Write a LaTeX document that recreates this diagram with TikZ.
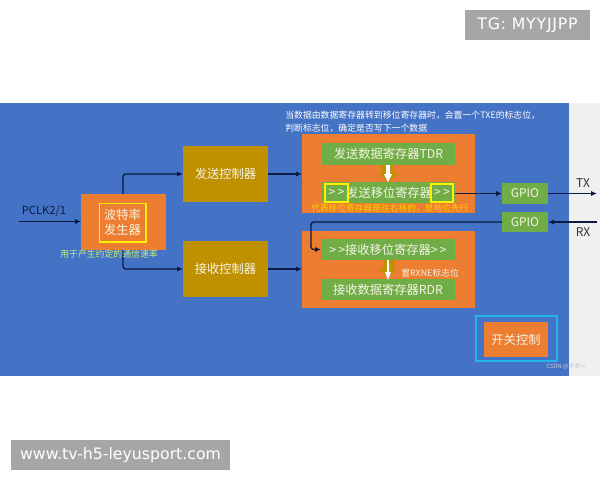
\documentclass[tikz,border=0pt]{standalone}
\usepackage{fontspec}
\setmainfont{Noto Sans CJK SC}
\newfontfamily\wmfont{DejaVu Sans}
\newfontfamily\tgfont[LetterSpace=5]{DejaVu Sans}
\usetikzlibrary{arrows.meta}
\definecolor{bluebg}{HTML}{4472C4}
\definecolor{orangeb}{HTML}{ED7D31}
\definecolor{goldb}{HTML}{BF9000}
\definecolor{greenb}{HTML}{70AD47}
\definecolor{grayb}{HTML}{F0F0F0}
\definecolor{darkln}{HTML}{0B1A40}
\definecolor{wm}{HTML}{A6A6A6}
\definecolor{yel}{HTML}{FFF200}
\definecolor{cyanb}{HTML}{22B5EE}
\definecolor{notey}{HTML}{FFD000}
\definecolor{noteg}{HTML}{C6F07A}
\definecolor{txtw}{HTML}{F6F3E6}
\definecolor{csdn}{HTML}{C4CCDD}
\newcommand{\dbl}{>\kern1.5pt>}
\tikzset{
  x=0.75pt,y=-0.75pt,
  boxat/.style n args={4}{minimum width=(#3-#1)*0.75pt,minimum height=(#4-#2)*0.75pt,anchor=north west,inner sep=0pt,outer sep=0pt},
  blk/.style={text=txtw,align=center,font=\fontsize{9.2}{12}\selectfont},
  goldbox/.style={fill=goldb,blk},
  orbox/.style={fill=orangeb,blk},
  grbox/.style={fill=greenb,blk},
  yelbox/.style={draw=yel,line width=1pt,fill=none,text=txtw},
  conn/.style={draw=darkln,line width=1pt,-{Latex[length=4.5pt,width=4pt]},rounded corners=2pt},
  note/.style={inner sep=0pt,anchor=west,font=\fontsize{6.65}{8}\selectfont},
  wmbox/.style={fill=wm,text=white,inner sep=0pt},
}
\begin{document}
\begin{tikzpicture}
\useasboundingbox (0,0) rectangle (600,480);
\fill[white] (0,0) rectangle (600,480);
\fill[bluebg] (0,103) rectangle (569,376);
\fill[grayb] (569,103) rectangle (600,376);

\node[wmbox,font=\tgfont\fontsize{11.8}{13}\selectfont,minimum width=94pt,minimum height=23pt] (tg) at (527.5,25) {TG: MYYJJPP};
\node[wmbox,font=\wmfont\fontsize{11.8}{13}\selectfont,minimum width=164pt,minimum height=22.5pt] (site) at (120.5,455) {www.tv-h5-leyusport.com};

\node[orbox,boxat={81}{194}{166}{250}] (baud) at (81,194) {};
\node[yelbox,blk,minimum width=35pt,minimum height=29pt,inner sep=0pt] (baudin) at (122.5,222.5) {波特率\\[-1pt]发生器};
\node[goldbox,boxat={183}{146}{268}{202}] (txc) at (183,146) {发送控制器};
\node[goldbox,boxat={183}{241}{268}{297}] (rxc) at (183,241) {接收控制器};

\node[orbox,boxat={302}{134}{475}{213}] (txo) at (302,134) {};
\node[orbox,boxat={302}{231}{475}{308}] (rxo) at (302,231) {};

\node[grbox,boxat={322}{143}{455}{165}] (tdr) at (322,143) {发送数据寄存器TDR};
\node[grbox,boxat={322}{182}{455}{203}] (tsr) at (322,182) {\hspace*{1pt}发送移位寄存器};
\node[yelbox,blk,boxat={325}{184}{348}{202}] (ya) at (325,184) {\dbl};
\node[yelbox,blk,boxat={431}{184}{453}{202}] (yb) at (431,184) {\dbl};
\node[grbox,boxat={321}{239}{455}{260}] (rsr) at (321,239) {\dbl 接收移位寄存器\dbl};
\node[grbox,boxat={321}{279}{455}{300}] (rdr) at (321,279) {接收数据寄存器RDR};

\node[grbox,boxat={502}{183}{548}{204},font=\fontsize{9}{10}\selectfont] (g1) at (502,183) {GPIO};
\node[grbox,boxat={502}{212}{548}{232},font=\fontsize{9}{10}\selectfont] (g2) at (502,212) {GPIO};

\node[draw=cyanb,line width=1.1pt,boxat={476}{316}{557}{361}] (swo) at (476,316) {};
\node[orbox,boxat={484}{322}{548}{357}] (sw) at (484,322) {开关控制};

% block arrows
\fill[goldb] (382,165)--(393,165)--(393,173)--(399,173)--(388,182)--(378,173)--(382,173)--cycle;
\fill[white] (386,165)--(390,165)--(390,174)--(392,174)--(388,182)--(384,174)--(386,174)--cycle;
\fill[goldb] (383,260)--(394,260)--(394,268)--(398,268)--(388,277)--(378,268)--(383,268)--cycle;
\fill[white] (387,260)--(389,260)--(389,272)--(391,272)--(388,280)--(385,272)--(387,272)--cycle;

% free ends
\coordinate (pin) at (19,221.5);
\coordinate (txout) at (597,193.5);
\coordinate (rxin) at (597,222);

% connectors
\draw[conn] (pin) -- (pin -| baud.west);
\draw[conn] (123,194) |- (txc.west);
\draw[conn] (123,250) |- (rxc.west);
\draw[conn] (txc.east) -- (txc.east -| txo.west);
\draw[conn] (rxc.east) -- (rxc.east -| rxo.west);
\draw[conn] (g1.west -| tsr.east) -- (g1.west);
\draw[conn] (g1.east) -- (txout);
\draw[conn] (rxin) -- (g2.east);
\draw[conn] (g2.west) -- (311,222) |- (rsr.west);

% labels
\node[inner sep=0pt,text=darkln,font=\fontsize{8.4}{9}\selectfont] (pclk) at (44,211) {PCLK2/1};
\node[inner sep=0pt,text=black!80,font=\fontsize{9}{9}\selectfont] (tx) at (583,183) {TX};
\node[inner sep=0pt,text=black!80,font=\fontsize{9}{9}\selectfont] (rx) at (583,232) {RX};
\node[note,text=noteg] (n1) at (60,254) {用于产生约定的通信速率};
\node[note,text=white] (n2) at (285,115) {当数据由数据寄存器转到移位寄存器时，会置一个TXE的标志位，};
\node[note,text=white] (n3) at (285,128) {判断标志位，确定是否写下一个数据};
\node[note,text=notey,font=\fontsize{6.55}{8}\selectfont] (n4) at (311,208) {代表移位寄存器是往右移的，是地位先行};
\node[note,text=txtw] (n5) at (401,273) {置RXNE标志位};
\node[inner sep=0pt,anchor=west,text=csdn,font=\fontsize{4.4}{5}\selectfont] (wm2) at (546,367) {CSDN @零度∞};
\end{tikzpicture}
\end{document}
